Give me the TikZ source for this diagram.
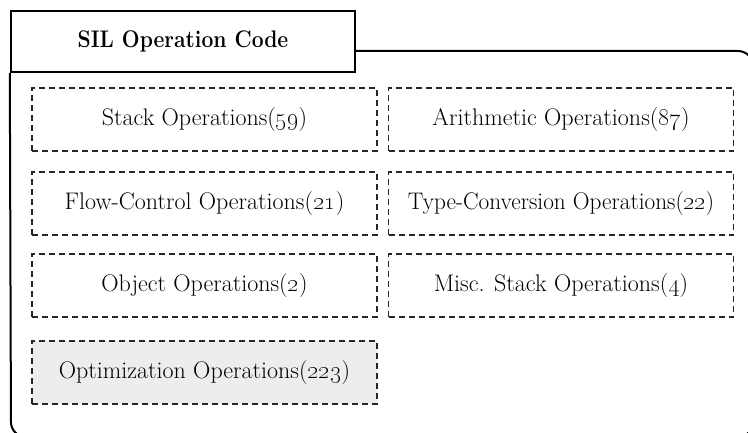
\documentclass[tikz,border=0pt]{standalone}
\usepackage{graphicx}
\begin{document}
\begin{tikzpicture}[x=1pt,y=-1pt,
  opbox/.style={draw=black!85, dash pattern=on 6pt off 4pt, line width=1.6pt,
    minimum width=345pt, minimum height=63pt, inner sep=0pt,
    font=\fontsize{24}{28}\selectfont, text=black},
  frame/.style={draw=black, line width=2pt},
  tabbox/.style={draw=black, line width=2.4pt, minimum width=344pt, minimum height=61pt,
    inner sep=0pt, font=\bfseries\fontsize{24}{28}\selectfont}]
\useasboundingbox (0,0) rectangle (748,433);
\clip (0,0) rectangle (748,433);
\node[tabbox] (tab) at (183,41.5) {\scalebox{0.88}[1]{SIL Operation Code}};
\draw[frame, rounded corners=15pt] (tab.east |- 0,51) -- (753,51) -- (753,437) -- (11,437) -- (tab.south west);
\node[opbox] (stack) at (204.5,119.5) {Stack Operations(\oldstylenums{59})};
\node[opbox] (arith) at (561,119.5) {Arithmetic Operations(\oldstylenums{87})};
\node[opbox] (flow) at (204.5,203.5) {Flow-Control Operations(\oldstylenums{21})};
\node[opbox] (type) at (561,203.5) {\scalebox{0.97}[1]{Type-Conversion Operations(\oldstylenums{22})}};
\node[opbox] (obj) at (204.5,285.5) {Object Operations(\oldstylenums{2})};
\node[opbox] (misc) at (561,285.5) {Misc. Stack Operations(\oldstylenums{4})};
\node[opbox, fill=black!7] (opt) at (204.5,372.5) {Optimization Operations(\oldstylenums{223})};
\end{tikzpicture}
\end{document}
